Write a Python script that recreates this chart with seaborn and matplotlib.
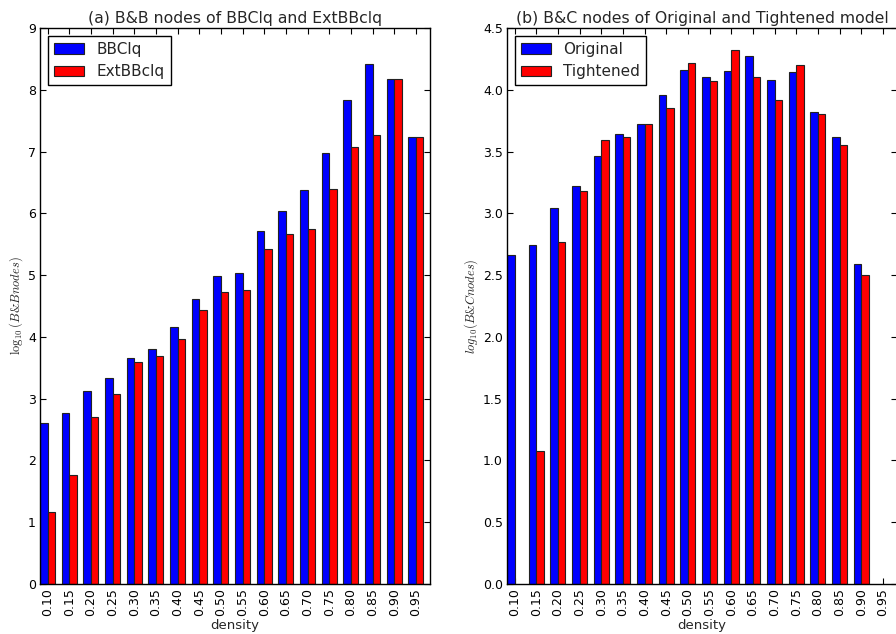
import numpy as np
import pandas as pd
import matplotlib
matplotlib.use("Agg")
import matplotlib.pyplot as plt
import seaborn as sns

# densities shared by both panels
density = ['0.10', '0.15', '0.20', '0.25', '0.30', '0.35', '0.40', '0.45', '0.50',
           '0.55', '0.60', '0.65', '0.70', '0.75', '0.80', '0.85', '0.90', '0.95']

# (a) log10 of B&B nodes
bbclq = [2.60, 2.76, 3.13, 3.34, 3.66, 3.80, 4.16, 4.61, 4.99,
         5.04, 5.71, 6.04, 6.38, 6.97, 7.83, 8.42, 8.18, 7.23]
extbbclq = [1.17, 1.76, 2.70, 3.08, 3.59, 3.69, 3.97, 4.43, 4.73,
            4.76, 5.42, 5.66, 5.74, 6.40, 7.07, 7.27, 8.18, 7.23]

# (b) log10 of B&C nodes (no value where nothing was drawn)
original = [2.66, 2.74, 3.04, 3.22, 3.46, 3.64, 3.72, 3.96, 4.16,
            4.10, 4.15, 4.27, 4.08, 4.14, 3.82, 3.62, 2.59, np.nan]
tightened = [np.nan, 1.08, 2.77, 3.18, 3.59, 3.62, 3.72, 3.85, 4.22,
             4.07, 4.32, 4.10, 3.92, 4.20, 3.80, 3.55, 2.50, np.nan]

sns.set_style("ticks")
plt.rcParams['font.family'] = ['DejaVu Sans']
plt.rcParams['mathtext.fontset'] = 'cm'

fig = plt.figure(figsize=(8.96, 6.34), dpi=100)
ax1 = fig.add_axes([0.0446, 0.0789, 0.4353, 0.877])
ax2 = fig.add_axes([0.5658, 0.0789, 0.4353, 0.877])


def long_form(a, b, name_a, name_b):
    return pd.DataFrame({
        'density': density * 2,
        'value': a + b,
        'series': [name_a] * len(density) + [name_b] * len(density),
    })


def draw(ax, df, names, title, ylabel, ymax, yticks, fmt):
    sns.barplot(data=df, x='density', y='value', hue='series', order=density,
                hue_order=names, palette=['#0000ff', '#ff0000'], width=0.7,
                edgecolor='#222222', linewidth=0.8, saturation=1, errorbar=None,
                ax=ax)
    ax.set_xlim(-0.35, len(density) - 0.35)
    ax.set_ylim(0, ymax)
    ax.set_yticks(yticks)
    ax.set_yticklabels([fmt.format(t) for t in yticks])
    ax.set_xticks(range(len(density)))
    ax.set_xticklabels(density, rotation=90)
    ax.tick_params(direction='in', length=4, width=0.8, top=True, right=True,
                   labelsize=9, pad=3, colors='black')
    for s in ax.spines.values():
        s.set_visible(True)
        s.set_color('black')
        s.set_linewidth(1.0)
    ax.set_title(title, fontsize=11.3, pad=3.5)
    ax.set_xlabel('density', fontsize=9.5, labelpad=2)
    ax.set_ylabel(ylabel, fontsize=9, labelpad=2)
    ax.legend(loc='upper left', fancybox=False, edgecolor='black',
              framealpha=1, fontsize=11, labelspacing=0.5).get_frame().set_linewidth(1.0)


draw(ax1, long_form(bbclq, extbbclq, 'BBClq', 'ExtBBclq'), ['BBClq', 'ExtBBclq'],
     '(a) B&B nodes of BBClq and ExtBBclq', r'$\log_{10}(B&B nodes)$',
     9, list(range(10)), '{:d}')
draw(ax2, long_form(original, tightened, 'Original', 'Tightened'), ['Original', 'Tightened'],
     '(b) B&C nodes of Original and Tightened model', r'$log_{10}(B&C nodes)$',
     4.5, [i * 0.5 for i in range(10)], '{:.1f}')

fig.savefig('out.png', dpi=100)
